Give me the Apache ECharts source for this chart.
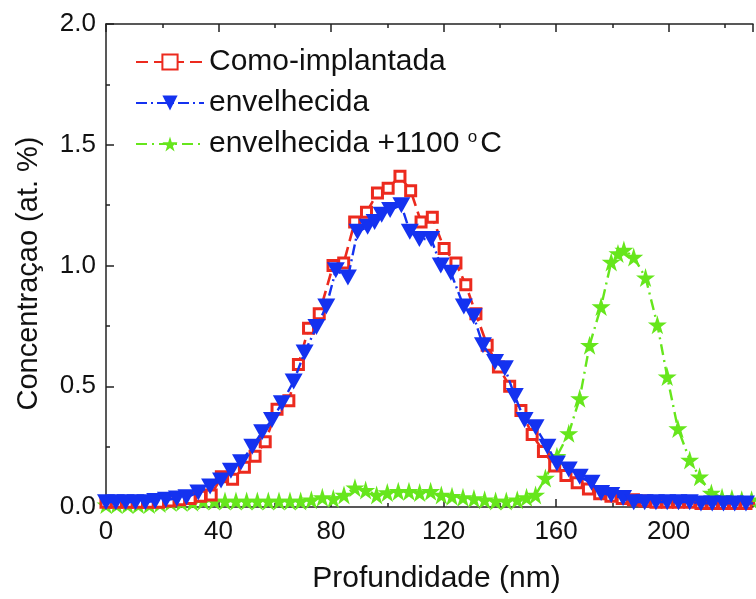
<!DOCTYPE html>
<html>
<head>
<meta charset="utf-8">
<script src="https://cdn.jsdelivr.net/npm/echarts@6/dist/echarts.min.js"></script>
<style>
  html, body { margin: 0; padding: 0; background: #fff; }
  #chart { width: 756px; height: 599px; }
</style>
</head>
<body>
<div id="chart"></div>
<script>
// Como-implantada (red squares)
const redX = [0, 3.7, 7.5, 11.2, 15, 18.7, 22.4, 26.2, 29.9, 33.6, 37.4, 41, 45, 49.2, 53, 56.6,
  60.8, 65, 68.4, 72, 75.8, 80.7, 84.5, 88.4, 92.6, 96.5, 100.3, 104.5, 108.3, 112, 116,
  120.2, 124.4, 127.9, 131.5, 135.5, 139.5, 143.5, 147.5, 151.5, 155.5, 159.5, 163.5,
  167.5, 171.5, 175.5, 179.5, 183.5, 187.5, 191.5, 195.5, 199.5, 203.5, 207.5, 211.5,
  215.5, 219.5, 223.5, 227.5, 231.5];
const redY = [0.02, 0.02, 0.02, 0.02, 0.02, 0.02, 0.025, 0.03, 0.035, 0.045, 0.05, 0.125, 0.115,
  0.165, 0.21, 0.27, 0.405, 0.44, 0.59, 0.74, 0.80, 1.00, 1.01, 1.18, 1.22, 1.30, 1.32, 1.37,
  1.31, 1.18, 1.20, 1.07, 1.01, 0.92, 0.80, 0.67, 0.58, 0.50, 0.40, 0.30, 0.23, 0.17, 0.13,
  0.10, 0.075, 0.055, 0.045, 0.035, 0.03, 0.025, 0.02, 0.02, 0.02, 0.02, 0.015, 0.015, 0.015,
  0.015, 0.015, 0.015];

// envelhecida (blue triangles)
const blueX = [0, 3.5, 7, 10.5, 14, 17.5, 21.3, 25.2, 28.6, 32.8, 37, 40.9, 44.4, 48, 52, 55.5,
  59, 62.5, 66.7, 70.6, 74.8, 78.3, 81.7, 86, 89.4, 93, 95.5, 98, 101, 105, 108, 111.4, 115.6,
  119, 122.6, 127.2, 130.7, 134, 138.3, 141.8, 145.3, 148.8, 152.7, 156.9, 160.3, 164.5,
  168.4, 172.6, 176, 179.6, 183.8, 187.6, 191.5, 195.5, 199.5, 203.5, 207.5, 211.5, 215.5,
  219.5, 223.5, 227.5, 231.5];
const blueY = [0.02, 0.02, 0.02, 0.02, 0.02, 0.025, 0.03, 0.035, 0.04, 0.06, 0.085, 0.11, 0.15,
  0.185, 0.25, 0.31, 0.36, 0.43, 0.52, 0.64, 0.745, 0.83, 0.98, 0.95, 1.14, 1.16, 1.18, 1.21,
  1.23, 1.25, 1.14, 1.11, 1.11, 1.00, 0.97, 0.83, 0.79, 0.67, 0.60, 0.575, 0.46, 0.36, 0.33,
  0.25, 0.18, 0.155, 0.125, 0.10, 0.058, 0.05, 0.037, 0.02, 0.02, 0.02, 0.02, 0.02, 0.02,
  0.015, 0.015, 0.015, 0.015, 0.015, 0.015];

// envelhecida +1100 °C (green stars)
const greenX = [0, 3.8, 7.7, 11.5, 15.4, 19.2, 23, 26.9, 30.8, 34.6, 38.5, 42.3, 46.2, 50, 53.8,
  57.7, 61.5, 65.4, 69.2, 73, 76.9, 80.8, 84.6, 88.5, 92.3, 96.2, 100, 103.9, 107.7, 111.5,
  115.4, 119.2, 123, 126.9, 130.8, 134.6, 138.5, 142.3, 146.2, 149.5, 152.7, 156.2, 160.3,
  164.5, 168.4, 171.9, 176, 179.6, 182, 184.1, 187.6, 191.8, 196, 199.5, 203.3, 207.5, 211,
  215.2, 219, 222.5, 226, 229.5];
const greenY = [0.01, 0.01, 0.01, 0.01, 0.01, 0.015, 0.02, 0.02, 0.02, 0.025, 0.025, 0.025,
  0.025, 0.025, 0.025, 0.025, 0.025, 0.025, 0.025, 0.03, 0.04, 0.035, 0.05, 0.08, 0.07, 0.05,
  0.06, 0.065, 0.065, 0.06, 0.065, 0.05, 0.045, 0.04, 0.035, 0.03, 0.025, 0.025, 0.03, 0.04,
  0.05, 0.12, 0.21, 0.305, 0.45, 0.67, 0.83, 1.015, 1.05, 1.064, 1.035, 0.95, 0.755, 0.54,
  0.325, 0.195, 0.125, 0.058, 0.04, 0.035, 0.03, 0.03];

const xTickStep = 40;
const yTicks = [0.0, 0.5, 1.0, 1.5, 2.0];

const pairs = (xs, ys) => xs.map((x, i) => [x, ys[i]]);

const RED = '#ec2a1e';
const BLUE = '#1432f0';
const GREEN = '#66e61c';
const AXIS = '#222';
const FONT = '"Liberation Sans", Arial, sans-serif';
const STAR = 'path://M50,0 L61,35 L98,35 L68,57 L79,91 L50,70 L21,91 L32,57 L2,35 L39,35 Z';

const xAxisBase = {
  type: 'value',
  min: 0,
  max: 230,
  interval: xTickStep,
  axisLine: { show: true, lineStyle: { color: AXIS, width: 1.5 } },
  axisTick: { show: true, inside: true, length: 8, lineStyle: { color: AXIS, width: 1.5 } },
  minorTick: { show: true, splitNumber: 2, length: 4, lineStyle: { color: AXIS, width: 1.5 } },
  splitLine: { show: false },
};

const chart = echarts.init(document.getElementById('chart'));
chart.setOption({
  animation: false,
  grid: { left: 106, top: 24, right: -8, bottom: 92, containLabel: false },
  legend: {
    data: ['Como-implantada', 'envelhecida', 'envelhecida +1100 °C'],
    orient: 'vertical',
    left: 130,
    top: 42,
    itemWidth: 68,
    itemHeight: 19,
    itemGap: 11,
    formatter: (name) => (name === 'envelhecida +1100 °C' ? 'envelhecida +1100 {sup|o}C' : name),
    textStyle: {
      fontFamily: FONT,
      fontSize: 30,
      color: '#111',
      lineHeight: 30,
      rich: {
        sup: { fontFamily: FONT, fontSize: 17, verticalAlign: 'top', lineHeight: 30, padding: [0, 3, 14, 0] },
      },
    },
  },
  xAxis: [
    Object.assign({}, xAxisBase, {
      position: 'bottom',
      name: 'Profundidade (nm)',
      nameLocation: 'middle',
      nameGap: 57,
      nameTextStyle: { fontFamily: FONT, fontSize: 30, color: '#111', padding: [0, 0, 0, 14] },
      axisLabel: {
        fontFamily: FONT, fontSize: 26, color: '#111', margin: 12,
        formatter: (v) => (v % xTickStep === 0 ? String(v) : ''),
      },
    }),
    Object.assign({}, xAxisBase, {
      position: 'top',
      axisLabel: { show: false },
    }),
  ],
  yAxis: {
    type: 'value',
    min: 0,
    max: 2,
    interval: 0.5,
    name: 'Concentraçao (at. %)',
    nameLocation: 'middle',
    nameGap: 63,
    nameTextStyle: { fontFamily: FONT, fontSize: 29, color: '#111', padding: [0, 16, 0, 0] },
    axisLine: { show: true, lineStyle: { color: AXIS, width: 1.5 } },
    axisTick: { show: true, inside: true, length: 8, lineStyle: { color: AXIS, width: 1.5 } },
    minorTick: { show: true, splitNumber: 2, length: 4, lineStyle: { color: AXIS, width: 1.5 } },
    splitLine: { show: false },
    axisLabel: {
      fontFamily: FONT, fontSize: 26, color: '#111', margin: 10,
      customValues: yTicks,
      formatter: (v) => v.toFixed(1),
    },
  },
  series: [
    {
      name: 'envelhecida +1100 °C',
      type: 'line',
      data: pairs(greenX, greenY),
      symbol: STAR,
      symbolSize: 19,
      itemStyle: { color: GREEN },
      lineStyle: { color: GREEN, width: 2.4, type: [11, 5, 2, 5] },
      z: 2,
    },
    {
      name: 'Como-implantada',
      type: 'line',
      data: pairs(redX, redY),
      symbol: 'rect',
      symbolSize: 10,
      itemStyle: { color: '#fff', borderColor: RED, borderWidth: 3 },
      lineStyle: { color: RED, width: 2.6, type: [12, 6] },
      z: 3,
    },
    {
      name: 'envelhecida',
      type: 'line',
      data: pairs(blueX, blueY),
      symbol: 'triangle',
      symbolRotate: 180,
      symbolSize: [18, 16],
      itemStyle: { color: BLUE },
      lineStyle: { color: BLUE, width: 2.4, type: [11, 4, 2, 4] },
      z: 4,
    },
  ],
});
</script>
</body>
</html>
